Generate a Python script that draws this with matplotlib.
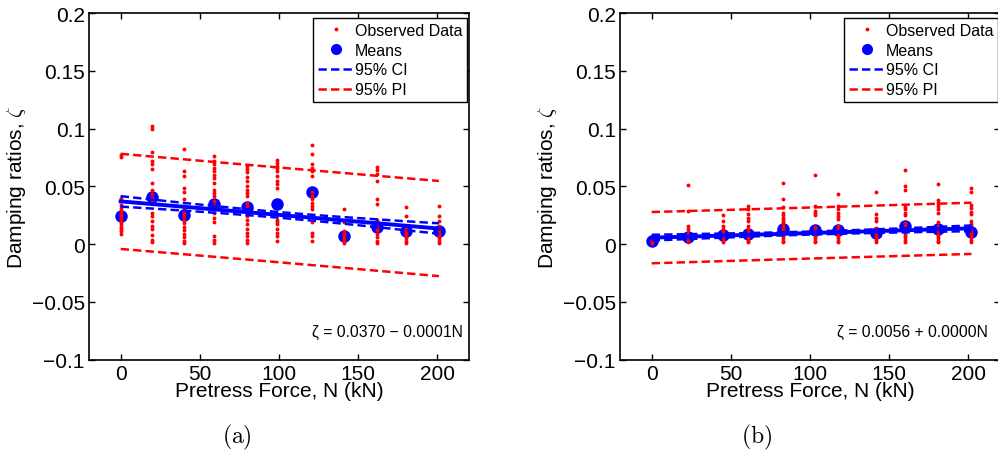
import numpy as np
import matplotlib
matplotlib.use("Agg")
import matplotlib.pyplot as plt
from matplotlib.lines import Line2D
from matplotlib.ticker import FuncFormatter

plt.rcParams['font.family'] = ['Liberation Sans', 'DejaVu Sans']
plt.rcParams['mathtext.fontset'] = 'cm'
plt.rcParams['lines.scale_dashes'] = False

# ---------------- data : panel (a) ----------------
x_a = [0, 20, 40, 59, 80, 99, 121, 141, 162, 180, 201]
means_a = [0.024, 0.041, 0.025, 0.035, 0.032, 0.035, 0.045, 0.007, 0.015, 0.011, 0.011]
obs_a = [
    [0.077, 0.075, 0.040, 0.037, 0.034, 0.031, 0.029, 0.027, 0.025, 0.023, 0.021, 0.019, 0.017, 0.015, 0.013, 0.011, 0.009],
    [0.102, 0.100, 0.080, 0.072, 0.069, 0.065, 0.053, 0.047, 0.043, 0.040, 0.038, 0.027, 0.024, 0.020, 0.016, 0.013, 0.008, 0.004, 0.002],
    [0.082, 0.063, 0.059, 0.049, 0.045, 0.039, 0.033, 0.030, 0.027, 0.024, 0.021, 0.018, 0.015, 0.012, 0.009, 0.006, 0.003, 0.001],
    [0.076, 0.072, 0.069, 0.066, 0.063, 0.060, 0.057, 0.053, 0.047, 0.044, 0.042, 0.037, 0.034, 0.030, 0.027, 0.023, 0.019, 0.007, 0.004, 0.001],
    [0.068, 0.065, 0.062, 0.058, 0.055, 0.050, 0.047, 0.044, 0.042, 0.036, 0.033, 0.030, 0.024, 0.021, 0.017, 0.013, 0.010, 0.007, 0.004, 0.001],
    [0.073, 0.070, 0.068, 0.066, 0.063, 0.059, 0.055, 0.052, 0.049, 0.021, 0.019, 0.017, 0.013, 0.010, 0.007, 0.003],
    [0.086, 0.078, 0.069, 0.066, 0.063, 0.059, 0.045, 0.042, 0.039, 0.036, 0.033, 0.030, 0.019, 0.010, 0.007, 0.003],
    [0.030, 0.019, 0.011, 0.009, 0.007, 0.005, 0.003, 0.001],
    [0.067, 0.064, 0.0605, 0.055, 0.039, 0.035, 0.021, 0.018, 0.015, 0.012, 0.009, 0.006, 0.003, 0.001],
    [0.032, 0.024, 0.016, 0.013, 0.011, 0.009, 0.007, 0.005, 0.003, 0.001],
    [0.033, 0.024, 0.020, 0.016, 0.013, 0.011, 0.009, 0.007, 0.005, 0.003, 0.001],
]
fit_a = (0.0370, -0.000117)     # intercept, slope
resid_sd_a = 0.0208
n_per_group_a = 26

# ---------------- data : panel (b) ----------------
x_b = [0, 23, 45, 61, 83, 103, 118, 142, 160, 181, 202]
means_b = [0.003, 0.0066, 0.0078, 0.0087, 0.013, 0.0124, 0.0124, 0.0095, 0.0153, 0.013, 0.0107]
obs_b = [
    [0.006, 0.005, 0.004, 0.003, 0.002, 0.001],
    [0.051, 0.029, 0.016, 0.013, 0.010, 0.008, 0.006, 0.004, 0.002],
    [0.025, 0.020, 0.016, 0.013, 0.011, 0.009, 0.007, 0.005, 0.003, 0.002],
    [0.033, 0.030, 0.026, 0.023, 0.020, 0.016, 0.013, 0.011, 0.009, 0.007, 0.005, 0.003, 0.002],
    [0.053, 0.039, 0.032, 0.027, 0.025, 0.023, 0.021, 0.019, 0.017, 0.015, 0.013, 0.011, 0.009, 0.007, 0.005, 0.003, 0.002],
    [0.060, 0.033, 0.029, 0.027, 0.025, 0.015, 0.013, 0.011, 0.009, 0.007, 0.005, 0.003, 0.002],
    [0.043, 0.033, 0.030, 0.027, 0.024, 0.022, 0.016, 0.013, 0.011, 0.009, 0.007, 0.005, 0.003, 0.002],
    [0.045, 0.026, 0.023, 0.020, 0.014, 0.012, 0.010, 0.008, 0.006, 0.004, 0.002],
    [0.064, 0.050, 0.047, 0.032, 0.030, 0.027, 0.025, 0.018, 0.016, 0.014, 0.012, 0.010, 0.008, 0.006, 0.004, 0.002],
    [0.052, 0.038, 0.036, 0.033, 0.030, 0.027, 0.019, 0.016, 0.013, 0.011, 0.009, 0.007, 0.005, 0.003, 0.002],
    [0.049, 0.045, 0.034, 0.031, 0.028, 0.026, 0.020, 0.017, 0.014, 0.012, 0.010, 0.008, 0.006, 0.004, 0.002],
]
fit_b = (0.0056, 0.00004)
resid_sd_b = 0.0112
n_per_group_b = 26

x_ticks = [0, 50, 100, 150, 200]
y_ticks = [-0.1, -0.05, 0, 0.05, 0.1, 0.15, 0.2]
panel_labels = ['(a)', '(b)']
legend_labels = ['Observed Data', 'Means', '95% CI', '95% PI']
x_label = 'Pretress Force, N (kN)'
y_label = r'Damping ratios, $\zeta$'

T_CRIT = 1.968


def bands(xg, fit, s, m):
    xg = np.asarray(xg, float)
    xall = np.repeat(xg, m)
    n = len(xall)
    xbar = xall.mean()
    sxx = ((xall - xbar) ** 2).sum()
    yhat = fit[0] + fit[1] * xg
    se_m = s * np.sqrt(1.0 / n + (xg - xbar) ** 2 / sxx)
    se_p = s * np.sqrt(1.0 + 1.0 / n + (xg - xbar) ** 2 / sxx)
    return yhat, T_CRIT * se_m, T_CRIT * se_p


def fmt(v, pos):
    s = '%g' % v
    return s.replace('-', '\u2212')


W, H = 998, 456
fig = plt.figure(figsize=(W / 100, H / 100), dpi=100)
ax_w = 380 / W
ax_h = 346.7 / H
ax_bottom = (H - 360.7) / H
lefts = [89 / W, 620 / W]

panels = [
    (x_a, means_a, obs_a, fit_a, resid_sd_a, n_per_group_a),
    (x_b, means_b, obs_b, fit_b, resid_sd_b, n_per_group_b),
]
eq_pos = [0.985, 0.968]
label_x = [237, 757]

dash = (6, 3)
for i, (xg, mg, obs, fit, s, m) in enumerate(panels):
    ax = fig.add_axes([lefts[i], ax_bottom, ax_w, ax_h])
    yhat, ci, pi = bands(xg, fit, s, m)
    # means
    ax.plot(xg, mg, 'o', color='#0000ff', markersize=9, markeredgewidth=0, zorder=2)
    # observed data
    ox = np.concatenate([[xv] * len(o) for xv, o in zip(xg, obs)])
    oy = np.concatenate(obs)
    ax.plot(ox, oy, 'o', color='#ff0000', markersize=2.8, markeredgewidth=0, zorder=3)
    # fit and bands
    ax.plot(xg, yhat, '-', color='#0000ff', lw=2.8, zorder=4)
    ax.plot(xg, yhat + ci, color='#0000ff', lw=1.8, dashes=dash, zorder=4)
    ax.plot(xg, yhat - ci, color='#0000ff', lw=1.8, dashes=dash, zorder=4)
    ax.plot(xg, yhat + pi, color='#ff0000', lw=1.8, dashes=dash, zorder=4)
    ax.plot(xg, yhat - pi, color='#ff0000', lw=1.8, dashes=dash, zorder=4)

    ax.set_xlim(-20, 220)
    ax.set_ylim(-0.1, 0.2)
    ax.set_xticks(x_ticks)
    ax.set_yticks(y_ticks)
    ax.yaxis.set_major_formatter(FuncFormatter(fmt))
    ax.tick_params(direction='in', length=4, width=1, top=True, right=True,
                   labelsize=15, pad=3)
    for sp in ax.spines.values():
        sp.set_linewidth(1.2)
    ax.set_xlabel(x_label, fontsize=15, labelpad=-1)
    ax.set_ylabel(y_label, fontsize=15, labelpad=3)

    sign = '\u2212' if fit[1] < 0 else '+'
    eq = '\u03b6 = %.4f %s %.4fN' % (fit[0], sign, abs(fit[1]))
    ax.text(eq_pos[i], 0.08, eq, transform=ax.transAxes, ha='right', va='center',
            fontsize=11.3)

    handles = [
        Line2D([], [], ls='none', marker='o', color='#ff0000', markersize=2.8, markeredgewidth=0),
        Line2D([], [], ls='none', marker='o', color='#0000ff', markersize=8, markeredgewidth=0),
        Line2D([], [], color='#0000ff', lw=1.8, dashes=dash),
        Line2D([], [], color='#ff0000', lw=1.8, dashes=dash),
    ]
    leg = ax.legend(handles, legend_labels, loc='upper right',
                    bbox_to_anchor=(1 - 2 / 380, 1 - 5 / 346.7), borderaxespad=0,
                    fontsize=11.5, frameon=True, fancybox=False, framealpha=1,
                    edgecolor='black', handlelength=2.2, handletextpad=0.1,
                    labelspacing=0.3, borderpad=0.3)
    leg.get_frame().set_linewidth(1.0)

    fig.text(label_x[i] / W, 1 - 437 / H, r'$\mathrm{' + panel_labels[i] + '}$',
             ha='center', va='center', fontsize=17)

fig.savefig('out.png', dpi=100)
